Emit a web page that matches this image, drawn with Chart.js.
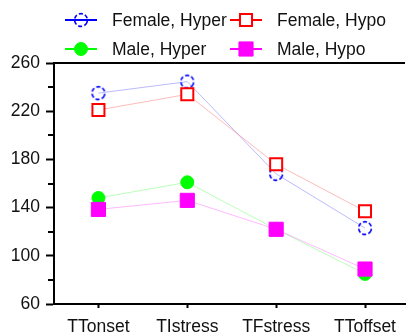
<!DOCTYPE html>
<html><head><meta charset="utf-8">
<script src="https://cdn.jsdelivr.net/npm/chart.js@4"></script>
<style>html,body{margin:0;padding:0;background:#fff;overflow:hidden}#wrap{width:416px;height:336px}</style>
</head><body><div id="wrap"><canvas id="c"></canvas></div>
<script>
const categories = ["TTonset", "TIstress", "TFstress", "TToffset"];
const seriesNames = ["Female, Hyper", "Female, Hypo", "Male, Hyper", "Male, Hypo"];
const femaleHyper = [235, 244.5, 168, 123];
const femaleHypo = [221, 234, 176, 137];
const maleHyper = [148, 161, 122, 85];
const maleHypo = [138.5, 146, 122, 89];
const yTicks = [60, 100, 140, 180, 220, 260];

// open dashed blue circle marker
function dashedCircle() {
  const c = document.createElement("canvas");
  c.width = 18; c.height = 18;
  const g = c.getContext("2d");
  g.strokeStyle = "#0000ff";
  g.lineWidth = 1.6;
  g.setLineDash([4, 2.2]);
  g.beginPath();
  g.arc(9, 9, 6.4, Math.PI / 8, Math.PI * 2 + Math.PI / 8);
  g.stroke();
  return c;
}
const blueMark = dashedCircle();

const styles = [
  { line: "rgba(120,120,255,0.5)", full: "#0000ff", pointStyle: blueMark, radius: 7, bg: "#fff", border: "#0000ff", bw: 0, order: 4 },
  { line: "rgba(255,120,120,0.5)", full: "#ff0000", pointStyle: "rect", radius: 8.5, bg: "#fff", border: "#ff0000", bw: 2, order: 2 },
  { line: "rgba(100,255,100,0.45)", full: "#00ff00", pointStyle: "circle", radius: 6.5, bg: "#00ff00", border: "#00ff00", bw: 1, order: 3 },
  { line: "rgba(255,120,255,0.5)", full: "#ff00ff", pointStyle: "rect", radius: 10, bg: "#ff00ff", border: "#ff00ff", bw: 1, order: 1 }
];
const values = [femaleHyper, femaleHypo, maleHyper, maleHypo];

const FONT = "'Liberation Sans', Arial, sans-serif";
Chart.defaults.font.family = FONT;
Chart.defaults.font.size = 17.5;
Chart.defaults.color = "#111";

const legendCols = [65, 230];
const legendRows = [20, 49];

const framePlugin = {
  id: "frame",
  afterDraw(chart) {
    const ctx = chart.ctx, a = chart.chartArea, y = chart.scales.y;
    ctx.save();
    ctx.strokeStyle = "#000";
    ctx.lineWidth = 2;
    ctx.beginPath();
    ctx.moveTo(a.left - 1, a.top);
    ctx.lineTo(a.right, a.top);
    // minor ticks halfway between labelled ticks
    for (let i = 0; i < yTicks.length - 1; i++) {
      const py = Math.round(y.getPixelForValue((yTicks[i] + yTicks[i + 1]) / 2));
      ctx.moveTo(a.left - 6, py);
      ctx.lineTo(a.left, py);
    }
    ctx.stroke();

    // legend: line - marker - line, then text
    seriesNames.forEach((name, i) => {
      const s = styles[i];
      const x0 = legendCols[i % 2], cy = legendRows[Math.floor(i / 2)];
      ctx.strokeStyle = s.full;
      ctx.lineWidth = 2;
      ctx.beginPath();
      ctx.moveTo(x0, cy);
      ctx.lineTo(x0 + 32, cy);
      ctx.stroke();
      ctx.fillStyle = s.bg;
      ctx.strokeStyle = s.border;
      ctx.lineWidth = s.bw;
      Chart.helpers.drawPoint(ctx, { pointStyle: s.pointStyle, radius: s.radius, borderWidth: s.bw, rotation: 0 }, x0 + 16, cy);
      ctx.fillStyle = "#111";
      ctx.font = "17.5px " + FONT;
      ctx.textBaseline = "middle";
      ctx.fillText(name, x0 + 47, cy + 1);
    });
    ctx.restore();
  }
};

new Chart(document.getElementById("c"), {
  type: "line",
  data: {
    datasets: values.map((vals, i) => ({
      label: seriesNames[i],
      data: vals.map((v, j) => ({ x: j, y: v })),
      borderColor: styles[i].line,
      borderWidth: 1,
      pointStyle: styles[i].pointStyle,
      pointRadius: styles[i].radius,
      pointHoverRadius: styles[i].radius,
      pointBackgroundColor: styles[i].bg,
      pointBorderColor: styles[i].border,
      pointBorderWidth: styles[i].bw,
      order: styles[i].order,
      tension: 0
    }))
  },
  options: {
    responsive: true,
    maintainAspectRatio: false,
    animation: false,
    layout: { padding: { top: 63, right: 0, left: 0, bottom: 0 } },
    plugins: { legend: { display: false }, tooltip: { enabled: false } },
    scales: {
      x: {
        type: "linear",
        min: -0.5,
        max: 3.45,
        afterBuildTicks: s => { s.ticks = categories.map((_, i) => ({ value: i })); },
        afterFit: s => { s.height = 32; },
        ticks: { callback: v => categories[v], padding: 9, maxRotation: 0, autoSkip: false },
        grid: { drawOnChartArea: false, tickLength: 4, tickWidth: 2, color: "#000" },
        border: { width: 2, color: "#000" }
      },
      y: {
        min: 60,
        max: 260,
        afterBuildTicks: s => { s.ticks = yTicks.map(v => ({ value: v })); },
        afterFit: s => { s.width = 54; },
        ticks: { padding: 6 },
        grid: { drawOnChartArea: false, tickLength: 8, tickWidth: 2, color: "#000" },
        border: { width: 2, color: "#000" }
      }
    }
  },
  plugins: [framePlugin]
});
</script>
</body></html>
